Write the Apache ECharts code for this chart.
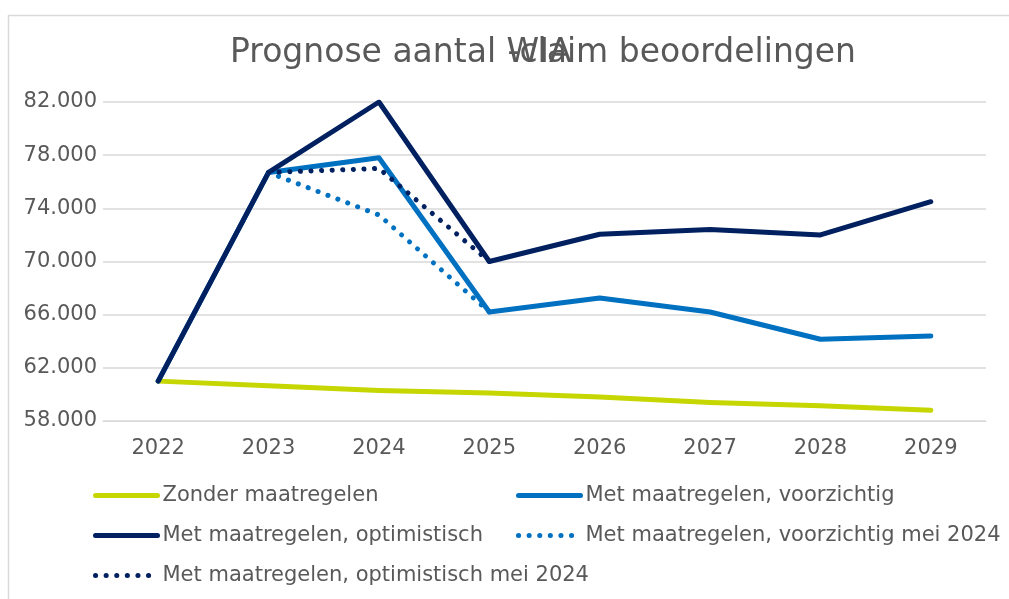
<!DOCTYPE html>
<html>
<head>
<meta charset="utf-8">
<script src="https://cdn.jsdelivr.net/npm/echarts@6/dist/echarts.min.js"></script>
<style>
html,body{margin:0;padding:0;background:#fff;}
#chart{width:1009px;height:599px;}
</style>
</head>
<body>
<div id="chart"></div>
<script>
const categories = ['2022','2023','2024','2025','2026','2027','2028','2029'];
const zonderMaatregelen = [61000, 60650, 60300, 60100, 59800, 59400, 59150, 58800];
const metVoorzichtig = [61000, 76700, 77800, 66200, 67250, 66200, 64150, 64400];
const metOptimistisch = [61000, 76700, 82000, 70000, 72050, 72400, 72000, 74500];
const voorzichtigMei2024 = [null, 76700, 73500, 66200, null, null, null, null];
const optimistischMei2024 = [null, 76700, 77000, 70000, null, null, null, null];
const seriesNames = [
  'Zonder maatregelen',
  'Met maatregelen, voorzichtig',
  'Met maatregelen, optimistisch',
  'Met maatregelen, voorzichtig mei 2024',
  'Met maatregelen, optimistisch mei 2024'
];
const titleParts = ['Prognose aantal WIA', '-claim beoordelingen'];

const FONT = 'DejaVu Sans';
const TXT = '#595959';
const cLime = '#c5d600', cBlue = '#0070c0', cNavy = '#002060';
const DOT = [0.1, 10.5];

function fmt(v){ return String(v).replace(/\B(?=(\d{3})+(?!\d))/g, '.'); }

function lineSeries(name, data, color, dotted){
  return {
    name, type:'line', data, symbol:'none', connectNulls:false,
    lineStyle: dotted
      ? {color, width:5, type:DOT, cap:'round'}
      : {color, width:5, cap:'round', join:'round'},
    itemStyle:{color},
    emphasis:{disabled:true},
    animation:false
  };
}

function legendAt(name, color, dotted, left, cy){
  return {
    data:[name], left, top: cy-11, padding:0, itemWidth:62, itemHeight:22, itemGap:5,
    textStyle:{fontFamily:FONT, fontSize:21, color:TXT},
    itemStyle:{opacity:0, borderWidth:0},
    lineStyle: dotted ? {color, width:5, type:DOT, cap:'round'} : {color, width:5, cap:'round'},
    selectedMode:false
  };
}

const chart = echarts.init(document.getElementById('chart'), null, {renderer:'canvas'});
chart.setOption({
  backgroundColor:'#fff',
  animation:false,
  title:[
    {text:titleParts[0], left:230, top:37, padding:0, textStyle:{fontFamily:FONT, fontSize:33, fontWeight:'normal', color:TXT}},
    {text:titleParts[1], right:153, top:37, padding:0, textStyle:{fontFamily:FONT, fontSize:33, fontWeight:'normal', color:TXT}}
  ],
  graphic:[{type:'rect', shape:{x:8.5, y:15.5, width:1100, height:700}, style:{fill:null, stroke:'#d9d9d9', lineWidth:1.5}, silent:true}],
  grid:{left:103, right:23, top:102, bottom:178},
  legend:[
    legendAt(seriesNames[0], cLime, false, 93, 496),
    legendAt(seriesNames[1], cBlue, false, 516, 496),
    legendAt(seriesNames[2], cNavy, false, 93, 536),
    legendAt(seriesNames[3], cBlue, true, 516, 536),
    legendAt(seriesNames[4], cNavy, true, 93, 576)
  ],
  xAxis:{
    type:'category', data:categories, boundaryGap:true,
    axisLine:{show:true, lineStyle:{color:'#d9d9d9', width:1}},
    axisTick:{show:false},
    axisLabel:{fontFamily:FONT, fontSize:21, color:TXT, margin:17}
  },
  yAxis:{
    type:'value', min:58000, max:82000, interval:4000,
    axisLine:{show:false}, axisTick:{show:false},
    splitLine:{lineStyle:{color:'#d9d9d9', width:1.5}},
    axisLabel:{fontFamily:FONT, fontSize:21, color:TXT, margin:6, formatter:fmt}
  },
  series:[
    lineSeries(seriesNames[0], zonderMaatregelen, cLime, false),
    lineSeries(seriesNames[1], metVoorzichtig, cBlue, false),
    lineSeries(seriesNames[2], metOptimistisch, cNavy, false),
    lineSeries(seriesNames[3], voorzichtigMei2024, cBlue, true),
    lineSeries(seriesNames[4], optimistischMei2024, cNavy, true)
  ]
});
</script>
</body>
</html>
